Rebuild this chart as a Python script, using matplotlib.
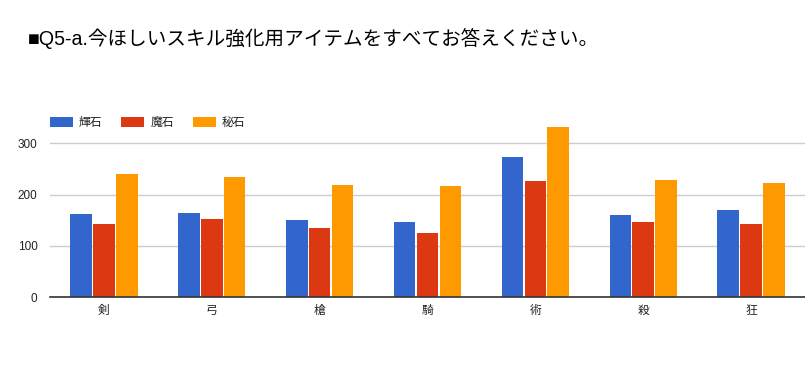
import numpy as np
import matplotlib
matplotlib.use('Agg')
import matplotlib.pyplot as plt

plt.rcParams['font.family'] = ['Liberation Sans', 'Noto Sans CJK JP', 'DejaVu Sans']

title = '■Q5-a.今ほしいスキル強化用アイテムをすべてお答えください。'
categories = ['剣', '弓', '槍', '騎', '術', '殺', '狂']
series_names = ['輝石', '魔石', '秘石']
kiseki = [162, 164, 151, 147, 274, 160, 170]
maseki = [142, 152, 135, 125, 227, 147, 143]
hiseki = [240, 234, 219, 217, 331, 229, 223]
colors = ['#3366cc', '#dc3912', '#ff9900']
yticks = [0, 100, 200, 300]

W, H = 805, 371
fig = plt.figure(figsize=(W / 100, H / 100), dpi=100)

# axes box in pixels: left 50, right 805, baseline 297, top for y=340
ymax = 340
px_per_unit = (297 - 143.3) / 300
top_px = 297 - ymax * px_per_unit
ax = fig.add_axes([50 / W, (H - 297) / H, (W - 50) / W, (297 - top_px) / H])

x = np.arange(len(categories))
width = 0.2
gap = 0.012
for i, (vals, name, c) in enumerate(zip([kiseki, maseki, hiseki], series_names, colors)):
    offs = (i - 1) * (width + gap)
    ax.bar(x + offs, vals, width=width, color=c, label=name, zorder=3)

ax.set_xlim(-0.5, len(categories) - 0.5)
ax.set_ylim(0, ymax)
ax.set_yticks(yticks)
ax.set_yticklabels([str(v) for v in yticks])
ax.set_xticks(x)
ax.set_xticklabels(categories)
ax.grid(axis='y', color='#cccccc', linewidth=1, zorder=0)
for s in ['top', 'right', 'left']:
    ax.spines[s].set_visible(False)
ax.spines['bottom'].set_color('#333333')
ax.spines['bottom'].set_linewidth(1.2)
ax.spines['bottom'].set_zorder(4)
ax.tick_params(axis='both', length=0, labelsize=8.5, labelcolor='#222222')
ax.tick_params(axis='y', pad=9)
ax.tick_params(axis='x', pad=6)

fig.legend(loc='upper left', bbox_to_anchor=(50 / W, (H - 117) / H),
           ncol=3, frameon=False, fontsize=8.5, borderpad=0, borderaxespad=0,
           handlelength=1.95, handleheight=0.85, handletextpad=0.5,
           columnspacing=1.6, labelcolor='#222222')

fig.text(28 / W, (H - 39) / H, title, fontsize=14.1, va='center', ha='left',
         color='#000000')

fig.savefig('out.png', dpi=100)
